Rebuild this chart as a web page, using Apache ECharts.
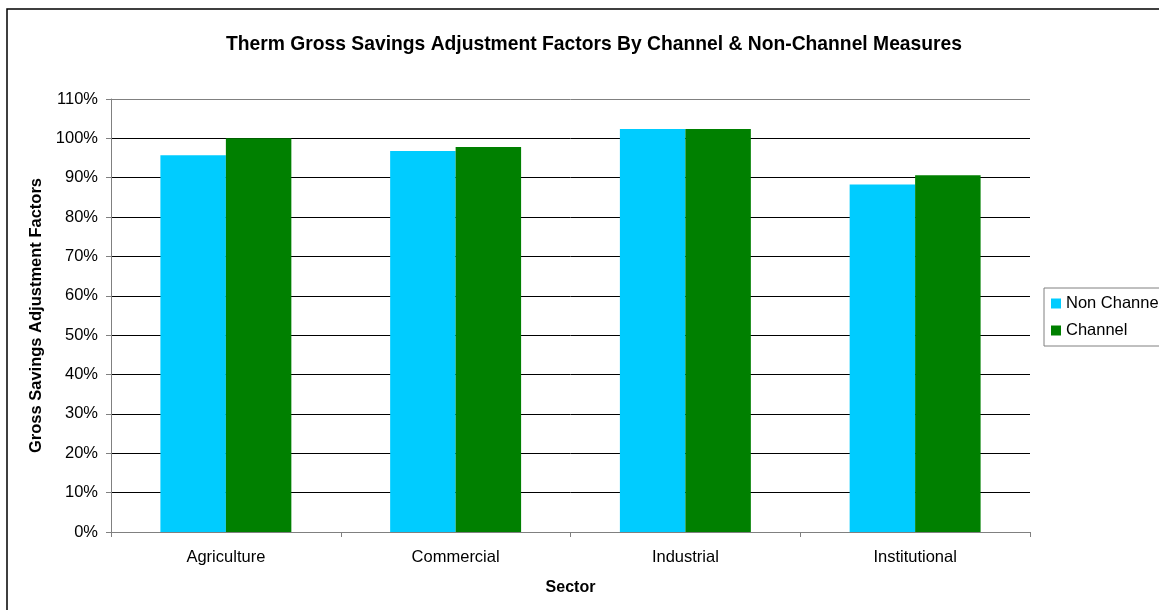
<!DOCTYPE html>
<html>
<head>
<meta charset="utf-8">
<script src="https://cdn.jsdelivr.net/npm/echarts@6/dist/echarts.min.js"></script>
<style>
html,body{margin:0;padding:0;background:#fff;}
#chart{width:1159px;height:610px;}
</style>
</head>
<body>
<div id="chart"></div>
<script>
const categories = ['Agriculture', 'Commercial', 'Industrial', 'Institutional'];
const nonChannel = [95.7, 96.8, 102.4, 88.3];
const channel = [100.0, 97.8, 102.4, 90.6];
const seriesNames = ['Non Channel', 'Channel'];

const chart = echarts.init(document.getElementById('chart'));
const font = '"Liberation Sans", Arial, sans-serif';
const gridColors = [];
for (let i = 0; i < 11; i++) gridColors.push('#000000');
gridColors.push('#808080');

chart.setOption({
  animation: false,
  backgroundColor: '#ffffff',
  textStyle: { fontFamily: font },
  title: {
    text: 'Therm Gross Savings Adjustment Factors By Channel & Non-Channel Measures',
    left: 589, top: 30, textAlign: 'center',
    textStyle: { fontFamily: font, fontSize: 19.3, fontWeight: 'bold', color: '#000' }
  },
  graphic: [{
    type: 'rect',
    shape: { x: 7, y: 9, width: 1200, height: 700 },
    style: { fill: 'none', stroke: '#000', lineWidth: 1.5 },
    silent: true, z: -1
  }],
  legend: {
    orient: 'vertical', left: 1044, top: 288,
    itemWidth: 10, itemHeight: 10, itemGap: 10,
    padding: [7, 40, 7, 7],
    borderColor: '#808080', borderWidth: 1,
    icon: 'rect',
    textStyle: { fontFamily: font, fontSize: 16.5, color: '#000' },
    data: seriesNames
  },
  grid: { left: 111, right: 129, top: 99, bottom: 78, containLabel: false },
  xAxis: {
    type: 'category', data: categories,
    name: 'Sector', nameLocation: 'middle', nameGap: 48,
    nameTextStyle: { fontFamily: font, fontSize: 16, fontWeight: 'bold', color: '#000' },
    axisLine: { lineStyle: { color: '#808080', width: 1 } },
    axisTick: { show: true, length: 5, lineStyle: { color: '#808080' } },
    axisLabel: { fontFamily: font, fontSize: 16.5, color: '#000', margin: 17 },
    splitLine: { show: false }
  },
  yAxis: {
    type: 'value', min: 0, max: 110, interval: 10,
    name: 'Gross Savings Adjustment Factors', nameLocation: 'middle', nameGap: 64,
    nameTextStyle: { fontFamily: font, fontSize: 16.5, fontWeight: 'bold', color: '#000' },
    axisLine: { show: true, lineStyle: { color: '#808080', width: 1 } },
    axisTick: { show: true, length: 5, lineStyle: { color: '#808080' } },
    axisLabel: { fontFamily: font, fontSize: 16.5, color: '#000', margin: 13, formatter: '{value}%' },
    splitLine: { show: true, lineStyle: { color: gridColors, width: 1 } }
  },
  series: [
    {
      name: seriesNames[0], type: 'bar', data: nonChannel,
      barGap: '0%', barCategoryGap: '43%',
      itemStyle: { color: '#00CCFF' }
    },
    {
      name: seriesNames[1], type: 'bar', data: channel,
      barGap: '0%', barCategoryGap: '43%',
      itemStyle: { color: '#008000' }
    }
  ]
});
</script>
</body>
</html>
